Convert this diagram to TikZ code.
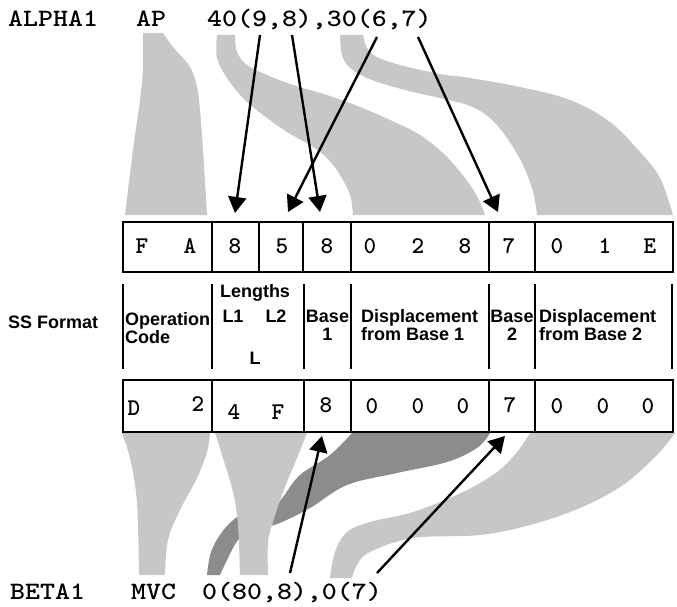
\documentclass[tikz,border=0pt]{standalone}
\usepackage{fontspec}
\usepackage{graphicx}
\setmainfont{Liberation Sans}
\usetikzlibrary{arrows.meta}
\newcommand{\wmono}[1]{\scalebox{1.14}[1]{#1}}
\begin{document}
\begin{tikzpicture}[x=1pt,y=-1pt,
  cell/.style={draw,line width=1.6pt,inner sep=0pt},
  ch/.style={font=\ttfamily\bfseries\fontsize{24}{24}\selectfont,inner sep=0pt},
  lbl/.style={font=\ttfamily\bfseries\fontsize{25}{25}\selectfont,inner sep=0pt,anchor=base west},
  sf/.style={font=\bfseries\fontsize{18}{19}\selectfont,inner sep=0pt,anchor=base},
  band/.style={fill=black!22},
  darkband/.style={fill=black!45},
  sepline/.style={line width=1.3pt},
  ptr/.style={line width=2.4pt,-{Triangle[length=16pt,width=18pt]}}]
\useasboundingbox (0,0) rectangle (677,607);

% ---------- gray bands (top) ----------
\fill[band] plot[smooth,tension=0.6] coordinates {(163,33) (173,47) (190,67) (197,87) (200,110) (203,150) (207,215)}
  -- plot[smooth,tension=0.6] coordinates {(125,215) (133,150) (140,100) (143,67) (143,33)} -- cycle;
\fill[band] plot[smooth,tension=0.6] coordinates {(217,35) (217,58) (227,78) (243,98) (263,115) (287,132) (310,145) (327,158) (340,175) (350,195) (353,215)}
  -- plot[smooth,tension=0.6] coordinates {(485,215) (478,198) (465,178) (445,155) (420,135) (390,120) (360,107) (327,95) (293,85) (267,75) (247,65) (237,52) (235,35)} -- cycle;
\fill[band] plot[smooth,tension=0.6] coordinates {(340,35) (342,55) (350,68) (367,78) (387,85) (413,92) (440,98) (470,106) (490,118) (507,138) (523,165) (533,192) (537,215)}
  -- plot[smooth,tension=0.6] coordinates {(673,215) (660,178) (640,152) (610,122) (570,100) (520,87) (470,78) (440,74) (400,65) (377,57) (367,48) (363,35)} -- cycle;

% ---------- gray bands (bottom) ----------
\fill[darkband] plot[smooth,tension=0.6] coordinates {(352,433) (330,455) (300,475) (283,497) (270,512) (250,513) (237,517) (222,532) (211,552) (207,575)}
  -- plot[smooth,tension=0.6] coordinates {(220,575) (228,558) (238,540) (252,530) (277,524) (310,508) (347,485) (397,473) (447,462) (477,448) (490,433)} -- cycle;
\fill[band] plot[smooth,tension=0.6] coordinates {(122,433) (130,458) (136,492) (138,525) (139,575)}
  -- plot[smooth,tension=0.6] coordinates {(165,575) (168,540) (180,510) (197,478) (207,452) (210,433)} -- cycle;
\fill[band] plot[smooth,tension=0.6] coordinates {(215,433) (223,458) (233,492) (238,525) (240,575)}
  -- plot[smooth,tension=0.6] coordinates {(268,575) (268,542) (273,522) (283,492) (297,458) (307,433)} -- cycle;
\fill[band] plot[smooth,tension=0.6] coordinates {(530,433) (517,452) (497,472) (463,492) (413,512) (370,522) (347,532) (335,552) (330,578)}
  -- plot[smooth,tension=0.6] coordinates {(352,578) (357,565) (370,552) (413,538) (480,535) (530,525) (580,508) (623,485) (657,455) (675,433)} -- cycle;

% ---------- top text ----------
\node[lbl] (alpha) at (8,27) {\wmono{ALPHA1}};
\node[lbl] (ap) at (136,27) {\wmono{AP}};
\node[lbl] (opnd1) at (207,27) {\wmono{40(9,8),30(6,7)}};

% ---------- bottom text ----------
\node[lbl] (beta) at (10,599) {\wmono{BETA1}};
\node[lbl] (mvc) at (131,599) {\wmono{MVC}};
\node[lbl] (opnd2) at (202,599) {\wmono{0(80,8),0(7)}};

% ---------- top row cells ----------
\node[cell,minimum width=89pt,minimum height=50pt] (t1) at (167.5,247) {};
\node[cell,minimum width=47pt,minimum height=50pt] (t2) at (235.5,247) {};
\node[cell,minimum width=44pt,minimum height=50pt] (t3) at (281,247) {};
\node[cell,minimum width=48pt,minimum height=50pt] (t4) at (327,247) {};
\node[cell,minimum width=138pt,minimum height=50pt] (t5) at (420,247) {};
\node[cell,minimum width=46pt,minimum height=50pt] (t6) at (512,247) {};
\node[cell,minimum width=138pt,minimum height=50pt] (t7) at (604,247) {};

\node[ch] (tF) at (142,246) {F};
\node[ch] (tA) at (190,246) {A};
\node[ch] (t8a) at (235,246) {8};
\node[ch] (t5a) at (282,246) {5};
\node[ch] (t8b) at (327,246) {8};
\node[ch] (t0a) at (370,246) {0};
\node[ch] (t2a) at (418,246) {2};
\node[ch] (t8c) at (465,246) {8};
\node[ch] (t7a) at (509,246) {7};
\node[ch] (t0b) at (557,246) {0};
\node[ch] (t1a) at (605,246) {1};
\node[ch] (tE) at (650,246) {E};

% ---------- middle (format) ----------
\foreach \xx in {123,212,304,351,489,535,672}
  \draw[sepline] (\xx,284) -- (\xx,369);
\node[sf,anchor=base west] (ssf) at (8,328) {SS Format};
\node[sf,anchor=base west] (opn) at (125,325) {Operation};
\node[sf,anchor=base west] (code) at (125,343) {Code};
\node[sf] (len) at (255,297) {Lengths};
\node[sf] (l1) at (233,322) {L1};
\node[sf] (l2) at (276,322) {L2};
\node[sf] (ll) at (255,364) {L};
\node[sf] (base1) at (327.5,322) {Base};
\node[sf] (one) at (327.5,340) {1};
\node[sf,anchor=base west] (disp1) at (361,322) {Displacement};
\node[sf,anchor=base west] (from1) at (361,340) {from Base 1};
\node[sf] (base2) at (512,322) {Base};
\node[sf] (two) at (512,340) {2};
\node[sf,anchor=base west] (disp2) at (539,322) {Displacement};
\node[sf,anchor=base west] (from2) at (539,340) {from Base 2};

% ---------- bottom row cells ----------
\node[cell,minimum width=89pt,minimum height=52pt] (b1) at (167.5,406) {};
\node[cell,minimum width=92pt,minimum height=52pt] (b2) at (258,406) {};
\node[cell,minimum width=47pt,minimum height=52pt] (b3) at (327.5,406) {};
\node[cell,minimum width=138pt,minimum height=52pt] (b4) at (420,406) {};
\node[cell,minimum width=46pt,minimum height=52pt] (b5) at (512,406) {};
\node[cell,minimum width=138pt,minimum height=52pt] (b6) at (604,406) {};

\node[ch] (bD) at (134,408) {D};
\node[ch] (b2a) at (198,404) {2};
\node[ch] (b4a) at (234,412) {4};
\node[ch] (bF) at (278,412) {F};
\node[ch] (b8a) at (326,405) {8};
\node[ch] (b0a) at (372,406) {0};
\node[ch] (b0b) at (418,406) {0};
\node[ch] (b0c) at (463,406) {0};
\node[ch] (b7a) at (510,405) {7};
\node[ch] (b0d) at (557,406) {0};
\node[ch] (b0e) at (603,406) {0};
\node[ch] (b0f) at (648,406) {0};

% ---------- arrows ----------
\coordinate (s9) at (260,35);  \coordinate (e9) at (235,213);
\coordinate (s8) at (292,35);  \coordinate (e8) at (320,212);
\coordinate (s6) at (377,37);  \coordinate (e6) at (288,212);
\coordinate (s7) at (418,37);  \coordinate (e7) at (498,212);
\coordinate (u8) at (290,573); \coordinate (v8) at (322,436);
\coordinate (u7) at (377,573); \coordinate (v7) at (505,436);
\draw[ptr] (s9) -- (e9);
\draw[ptr] (s8) -- (e8);
\draw[ptr] (s6) -- (e6);
\draw[ptr] (s7) -- (e7);
\draw[ptr] (u8) -- (v8);
\draw[ptr] (u7) -- (v7);
\end{tikzpicture}
\end{document}
